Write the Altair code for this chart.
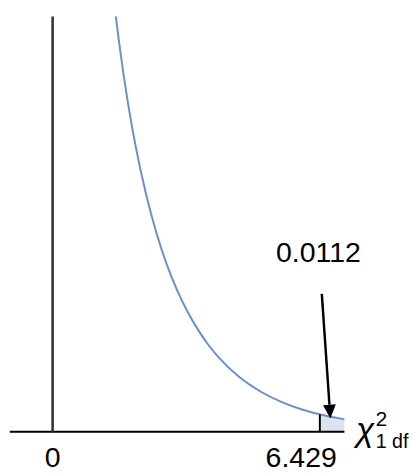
import altair as alt
import pandas as pd

# chi-square (1 df) density curve
curve_x = [1.52, 1.6, 1.7, 1.8, 1.9, 2.0, 2.25, 2.5, 2.75, 3.0, 3.25, 3.5,
           3.75, 4.0, 4.5, 5.0, 5.5, 6.0, 6.429, 6.5, 7.02]
curve_y = [0.1513, 0.1417, 0.1308, 0.1209, 0.1119, 0.1038, 0.0864, 0.0723,
           0.0608, 0.0514, 0.0436, 0.0371, 0.0316, 0.0270, 0.0198, 0.01465,
           0.01087, 0.00811, 0.00632, 0.00607, 0.00450]
critical = 6.429
critical_label = "6.429"
zero_label = "0"
tail_label = "0.0112"

X = alt.Scale(domain=[-1.0734, 8.646], nice=False, zero=False)
Y = alt.Scale(domain=[-0.01411, 0.15268], nice=False, zero=False)

curve = pd.DataFrame({"x": curve_x, "y": curve_y})
tail = curve[curve["x"] >= critical]

def xe(f="x"):
    return alt.X(f"{f}:Q", scale=X, axis=None)

def ye(f="y"):
    return alt.Y(f"{f}:Q", scale=Y, axis=None)

area = alt.Chart(tail).mark_area(color="#dde4f0", interpolate="monotone").encode(
    x=xe(), y=ye(), y2=alt.datum(0))

line = alt.Chart(curve).mark_line(color="#6b8fc9", strokeWidth=2,
                                  interpolate="monotone").encode(x=xe(), y=ye())

rules = pd.DataFrame({
    "x": [-1.03, 0.0, critical],
    "x2": [7.02, 0.0, critical],
    "y": [0.0, 0.0, 0.0],
    "y2": [0.0, 0.15125, 0.00632],
    "c": ["#000000", "#333333", "#000000"],
    "w": [2.2, 2.6, 2.0],
})
rule = alt.Chart(rules).mark_rule().encode(
    x=xe(), x2="x2:Q", y=ye(), y2="y2:Q",
    color=alt.Color("c:N", scale=None),
    strokeWidth=alt.StrokeWidth("w:Q", scale=None))

arrow_df = pd.DataFrame({"x": [6.476], "y": [0.05018], "x2": [6.660], "y2": [0.00982]})
shaft = alt.Chart(arrow_df).mark_rule(color="black", strokeWidth=2.5).encode(
    x=xe(), y=ye(), x2="x2:Q", y2="y2:Q")

head_df = pd.DataFrame({"x": [6.671], "y": [0.00732]})
head = alt.Chart(head_df).mark_point(
    shape="M-0.93,-1L0.93,-1L0,1Z", filled=True, color="black", opacity=1,
    size=196, angle=356).encode(x=xe(), y=ye())

labels = pd.DataFrame({
    "x": [0.0, 5.98, 6.394],
    "y": [-0.0127, -0.0127, 0.06196],
    "t": [zero_label, critical_label, tail_label],
})
text = alt.Chart(labels).mark_text(font="Liberation Sans", fontSize=29,
                                   align="center", baseline="alphabetic",
                                   color="black").encode(x=xe(), y=ye(), text="t:N")

chi = alt.Chart(pd.DataFrame({"x": [7.301], "y": [-0.00339], "t": ["χ"]})).mark_text(
    font="Liberation Sans", fontSize=34, fontStyle="italic", align="left",
    baseline="alphabetic", color="black").encode(x=xe(), y=ye(), text="t:N")
sup = alt.Chart(pd.DataFrame({"x": [7.773], "y": [0.00196], "t": ["2"]})).mark_text(
    font="Liberation Sans", fontSize=21, align="left",
    baseline="alphabetic", color="black").encode(x=xe(), y=ye(), text="t:N")
sub = alt.Chart(pd.DataFrame({"x": [7.773], "y": [-0.00589], "t": ["1 df"]})).mark_text(
    font="Liberation Sans", fontSize=20, align="left",
    baseline="alphabetic", color="black").encode(x=xe(), y=ye(), text="t:N")

chart = alt.layer(area, line, rule, shaft, head, text, chi, sup, sub).properties(
    width=412, height=467, padding=0, autosize="none"
).configure_view(stroke=None)

chart.save("out.html", embed_options={"renderer": "svg", "actions": False})
